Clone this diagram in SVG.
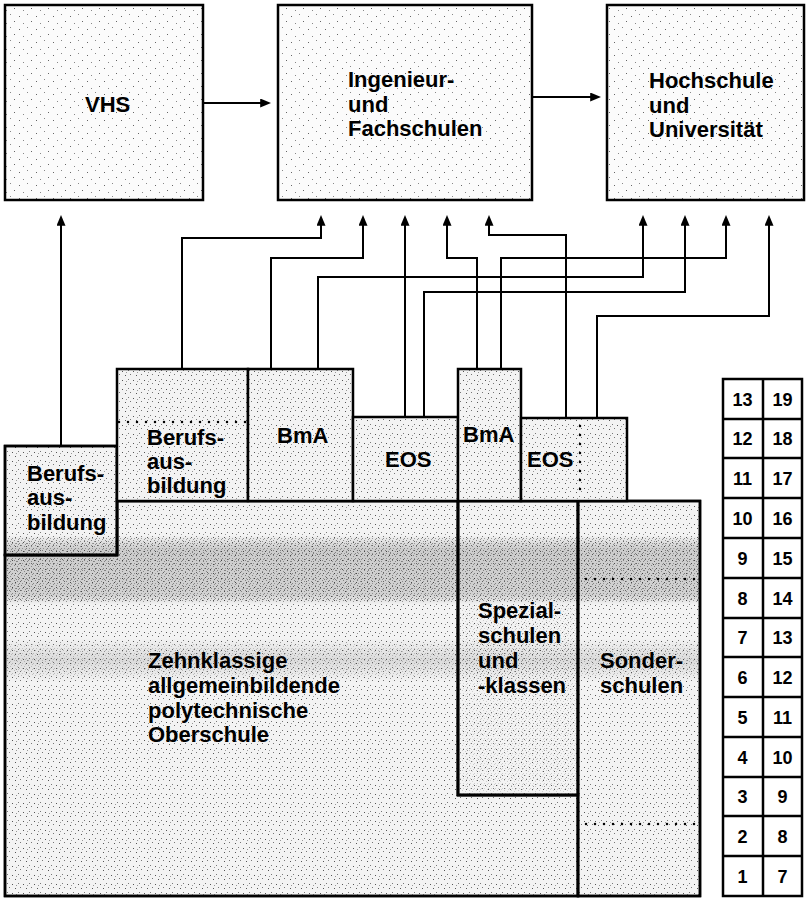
<svg xmlns="http://www.w3.org/2000/svg" width="806" height="902" viewBox="0 0 806 902">
<style>
.box{stroke:#000;stroke-width:2.5;}
.lt{fill:url(#stLight);}
.md{fill:url(#stMid);}
.lbl{font-family:"Liberation Sans",Arial,sans-serif;font-weight:bold;font-size:22px;fill:#000;}
.num{font-family:"Liberation Sans",Arial,sans-serif;font-weight:bold;font-size:18px;fill:#000;text-anchor:middle;}
.con{fill:none;stroke:#000;stroke-width:2;}
.dot{fill:none;stroke:#000;stroke-width:2.5;stroke-linecap:round;stroke-dasharray:0 9;}
</style>
<defs>
<pattern id="stLight" width="17" height="13" patternUnits="userSpaceOnUse">
<rect width="17" height="13" fill="#fbfbfb"/>
<rect x="2" y="3" width="1" height="1" fill="#666"/>
<rect x="10" y="1" width="1" height="1" fill="#888"/>
<rect x="14" y="8" width="1" height="1" fill="#666"/>
<rect x="6" y="10" width="1" height="1" fill="#888"/>
</pattern>
<pattern id="stMid" width="11" height="9" patternUnits="userSpaceOnUse">
<rect width="11" height="9" fill="#f3f3f3"/>
<rect x="1" y="2" width="1" height="1" fill="#555"/>
<rect x="7" y="1" width="1" height="1" fill="#777"/>
<rect x="4" y="6" width="1" height="1" fill="#555"/>
<rect x="9" y="5" width="1" height="1" fill="#777"/>
<rect x="5" y="3" width="1" height="1" fill="#999"/>
</pattern>
<pattern id="stDense" width="7" height="5" patternUnits="userSpaceOnUse">
<rect x="0" y="0" width="1" height="1" fill="#333"/>
<rect x="3" y="1" width="1" height="1" fill="#444"/>
<rect x="5" y="3" width="1" height="1" fill="#333"/>
<rect x="1" y="3" width="1" height="1" fill="#555"/>
<rect x="4" y="4" width="1" height="1" fill="#444"/>
</pattern>
<linearGradient id="band1" x1="0" y1="0" x2="0" y2="1">
<stop offset="0" stop-color="#000" stop-opacity="0"/>
<stop offset="0.2" stop-color="#000" stop-opacity="0.16"/>
<stop offset="0.85" stop-color="#000" stop-opacity="0.14"/>
<stop offset="1" stop-color="#000" stop-opacity="0"/>
</linearGradient>
<linearGradient id="band2" x1="0" y1="0" x2="0" y2="1">
<stop offset="0" stop-color="#000" stop-opacity="0"/>
<stop offset="0.5" stop-color="#000" stop-opacity="0.1"/>
<stop offset="1" stop-color="#000" stop-opacity="0"/>
</linearGradient>
<marker id="ah" viewBox="0 0 12 10" markerWidth="12" markerHeight="9" refX="2" refY="5" orient="auto" markerUnits="userSpaceOnUse">
<path d="M0,0 L12,5 L0,10 z" fill="#000"/>
</marker>
</defs>

<rect width="806" height="902" fill="#fff"/>

<g id="vhs">
<rect class="box lt" x="5" y="5" width="198" height="195"/>
<text class="lbl" x="85" y="112">VHS</text>
</g>
<g id="ingenieur-fachschulen">
<rect class="box lt" x="278" y="5" width="254" height="195"/>
<text class="lbl" x="348" y="87">Ingenieur-<tspan x="348" y="111.5">und</tspan><tspan x="348" y="136">Fachschulen</tspan></text>
</g>
<g id="hochschule">
<rect class="box lt" x="607" y="5" width="197" height="195"/>
<text class="lbl" x="649" y="88">Hochschule<tspan x="649" y="112.5">und</tspan><tspan x="649" y="137">Universität</tspan></text>
</g>

<g id="oberschule">
<path class="box md" d="M117,501 H458 V795 H578 V896 H5 V555 H117 Z"/>
</g>
<g id="spezialschulen">
<rect class="box md" x="458" y="501" width="120" height="294"/>
</g>
<g id="sonderschulen">
<rect class="box md" x="578" y="501" width="122" height="395"/>
</g>
<g id="berufsausbildung-1">
<rect class="box md" x="5" y="446" width="112" height="109"/>
</g>

<g id="bands">
<rect x="6" y="535" width="693" height="70" fill="url(#band1)"/>
<rect x="6" y="538" width="693" height="64" fill="url(#stDense)" opacity="0.5"/>
<rect x="6" y="638" width="693" height="44" fill="url(#band2)"/>
<rect x="6" y="644" width="693" height="32" fill="url(#stDense)" opacity="0.25"/>
<rect x="459" y="605" width="118" height="189" fill="url(#stDense)" opacity="0.2"/>
</g>

<g id="outlines">
<path class="box" fill="none" d="M117,501 H458 V795 H578 V896 H5 V555 H117 Z"/>
<rect class="box" fill="none" x="458" y="501" width="120" height="294"/>
<rect class="box" fill="none" x="578" y="501" width="122" height="395"/>
<rect class="box" fill="none" x="5" y="446" width="112" height="109"/>
<path class="dot" d="M586,579 H697 M586,824 H697"/>
</g>

<g id="berufsausbildung-1-text">
<text class="lbl" x="27" y="481">Berufs-<tspan x="27" y="505">aus-</tspan><tspan x="27" y="530">bildung</tspan></text>
</g>
<g id="oberschule-text">
<text class="lbl" x="148" y="668">Zehnklassige<tspan x="148" y="693">allgemeinbildende</tspan><tspan x="148" y="718">polytechnische</tspan><tspan x="148" y="742">Oberschule</tspan></text>
</g>
<g id="spezialschulen-text">
<text class="lbl" x="478" y="618">Spezial-<tspan x="478" y="643">schulen</tspan><tspan x="478" y="668">und</tspan><tspan x="478" y="693">-klassen</tspan></text>
</g>
<g id="sonderschulen-text">
<text class="lbl" x="600" y="668">Sonder-<tspan x="600" y="693">schulen</tspan></text>
</g>

<g id="berufsausbildung-2">
<rect class="box md" x="117" y="369" width="131" height="132"/>
<path class="dot" d="M119,422 H246"/>
<text class="lbl" x="147" y="445">Berufs-<tspan x="147" y="469">aus-</tspan><tspan x="147" y="493">bildung</tspan></text>
</g>
<g id="bma-1">
<rect class="box md" x="248" y="369" width="105" height="132"/>
<text class="lbl" x="277" y="443">BmA</text>
</g>
<g id="eos-1">
<rect class="box md" x="353" y="417" width="105" height="84"/>
<text class="lbl" x="385" y="467">EOS</text>
</g>
<g id="bma-2">
<rect class="box md" x="458" y="369" width="63" height="132"/>
<text class="lbl" x="463" y="442">BmA</text>
</g>
<g id="eos-2">
<rect class="box md" x="521" y="418" width="106" height="83"/>
<path class="dot" d="M580,426 V498"/>
<text class="lbl" x="527" y="467">EOS</text>
</g>

<g id="connectors">
<path class="con" d="M203,103 H262" marker-end="url(#ah)"/>
<path class="con" d="M532,97 H592" marker-end="url(#ah)"/>
<path class="con" d="M61,446 V224" marker-end="url(#ah)"/>
<path class="con" d="M182,369 V238 H321 V224" marker-end="url(#ah)"/>
<path class="con" d="M271,369 V258 H363 V224" marker-end="url(#ah)"/>
<path class="con" d="M318,369 V277 H643 V224" marker-end="url(#ah)"/>
<path class="con" d="M405,417 V224" marker-end="url(#ah)"/>
<path class="con" d="M424,417 V292 H685 V224" marker-end="url(#ah)"/>
<path class="con" d="M477,369 V258 H447 V224" marker-end="url(#ah)"/>
<path class="con" d="M501,369 V258 H726 V224" marker-end="url(#ah)"/>
<path class="con" d="M566,418 V235 H489 V224" marker-end="url(#ah)"/>
<path class="con" d="M597,418 V316 H769 V224" marker-end="url(#ah)"/>
</g>

<g id="klassen-tabelle">
<rect x="723" y="379" width="79" height="517" fill="#fff" stroke="#000" stroke-width="2.5"/>
<path d="M763,379 V896 M723,419 H802 M723,458 H802 M723,498 H802 M723,538 H802 M723,578 H802 M723,618 H802 M723,657 H802 M723,697 H802 M723,737 H802 M723,777 H802 M723,816 H802 M723,856 H802" fill="none" stroke="#000" stroke-width="2.5"/>
<text class="num" x="742.5" y="406">13</text><text class="num" x="782.5" y="406">19</text>
<text class="num" x="742.5" y="445">12</text><text class="num" x="782.5" y="445">18</text>
<text class="num" x="742.5" y="485">11</text><text class="num" x="782.5" y="485">17</text>
<text class="num" x="742.5" y="525">10</text><text class="num" x="782.5" y="525">16</text>
<text class="num" x="742.5" y="565">9</text><text class="num" x="782.5" y="565">15</text>
<text class="num" x="742.5" y="605">8</text><text class="num" x="782.5" y="605">14</text>
<text class="num" x="742.5" y="644">7</text><text class="num" x="782.5" y="644">13</text>
<text class="num" x="742.5" y="684">6</text><text class="num" x="782.5" y="684">12</text>
<text class="num" x="742.5" y="724">5</text><text class="num" x="782.5" y="724">11</text>
<text class="num" x="742.5" y="764">4</text><text class="num" x="782.5" y="764">10</text>
<text class="num" x="742.5" y="803">3</text><text class="num" x="782.5" y="803">9</text>
<text class="num" x="742.5" y="843">2</text><text class="num" x="782.5" y="843">8</text>
<text class="num" x="742.5" y="883">1</text><text class="num" x="782.5" y="883">7</text>
</g>
</svg>
